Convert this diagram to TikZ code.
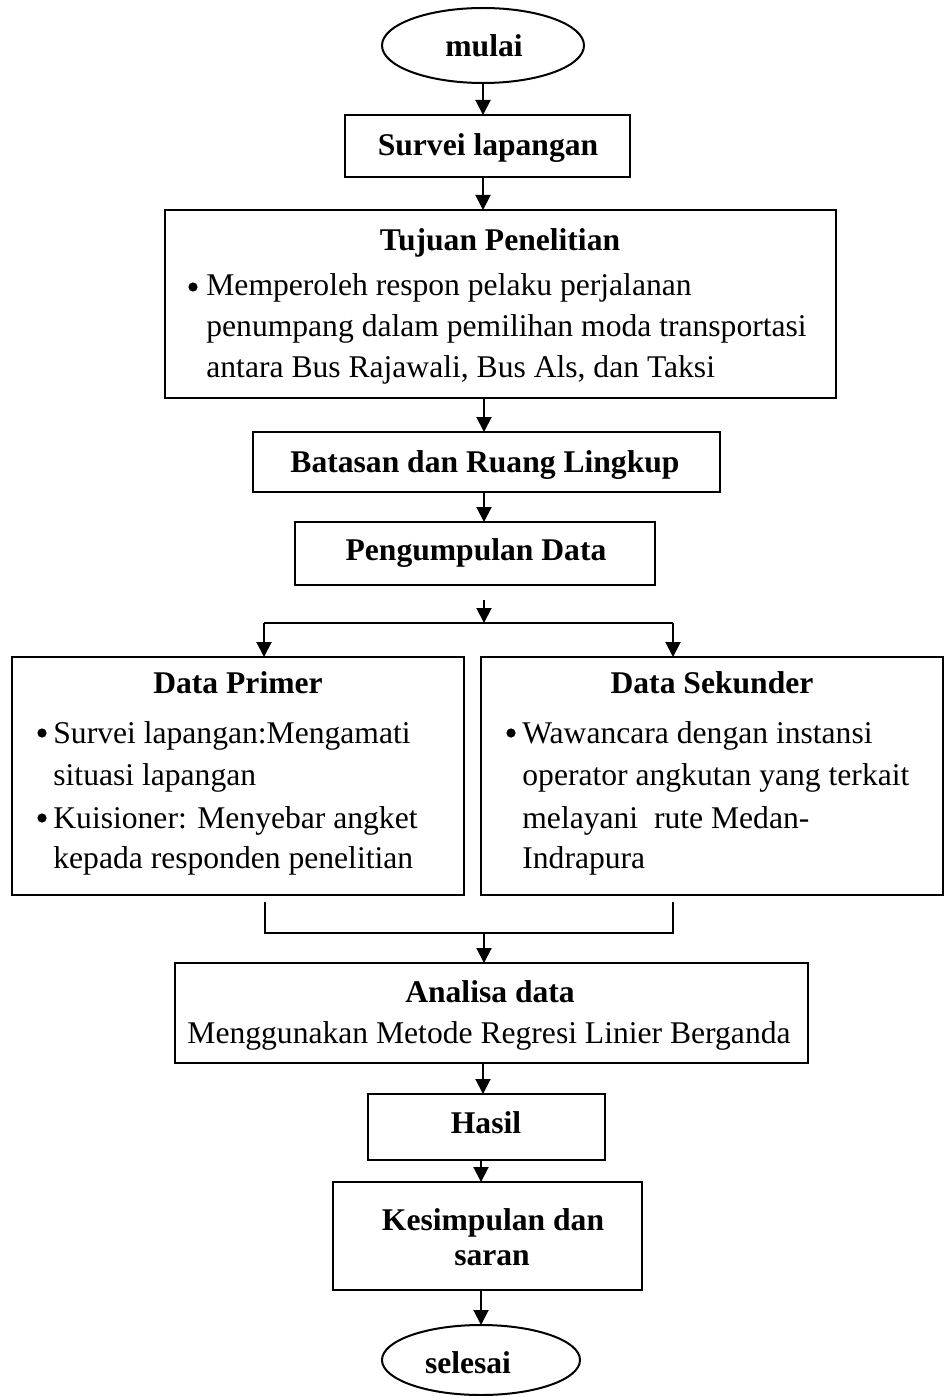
\documentclass[tikz,border=0pt]{standalone}
\usepackage{fontspec}
\setmainfont{Liberation Serif}
\usetikzlibrary{arrows.meta,shapes.geometric}

\begin{document}
\begin{tikzpicture}[x=0.5pt,y=-0.5pt,
  font=\fontsize{15.8pt}{19pt}\selectfont,
  box/.style={draw,line width=1pt,inner sep=0pt,outer sep=0pt},
  oval/.style={draw,ellipse,line width=1pt,inner sep=0pt,outer sep=0pt},
  txt/.style={anchor=base,inner sep=0pt},
  ltxt/.style={anchor=base west,inner sep=0pt},
  dot/.style={circle,fill,inner sep=0pt,minimum size=4.6pt},
  arr/.style={-{Triangle[width=7.5pt,length=7.5pt]},line width=1pt},
  lin/.style={line width=1pt}]
\useasboundingbox (0,0) rectangle (944,1396);

% start and end ovals
\node[oval,minimum width=101pt,minimum height=37.5pt] (mulai) at (483,45.5) {};
\node[txt] (tmulai) at (484,57) {\textbf{mulai}};
\node[oval,minimum width=99pt,minimum height=35pt] (selesai) at (481,1360) {};
\node[txt] (tselesai) at (468,1373) {\textbf{selesai}};

% process boxes
\node[box,minimum width=142.5pt,minimum height=31pt] (survei) at (487.5,146) {};
\node[txt] (tsurvei) at (488,156) {\textbf{Survei lapangan}};

\node[box,minimum width=335.5pt,minimum height=94pt] (tujuan) at (500.5,304) {};
\node[txt] (ttujuan) at (500,250) {\textbf{Tujuan Penelitian}};
\node[dot] (btujuan) at (193,287) {};
\node[ltxt] (tujuan1) at (206,295) {Memperoleh respon pelaku perjalanan};
\node[ltxt] (tujuan2) at (206,336) {penumpang dalam pemilihan moda transportasi};
\node[ltxt] (tujuan3) at (206,377) {antara Bus Rajawali, Bus Als, dan Taksi};

\node[box,minimum width=233.5pt,minimum height=30pt] (batasan) at (486.5,462) {};
\node[txt] (tbatasan) at (485,472) {\textbf{Batasan dan Ruang Lingkup}};

\node[box,minimum width=180pt,minimum height=31.5pt] (kumpul) at (475,553.5) {};
\node[txt] (tkumpul) at (476,560) {\textbf{Pengumpulan Data}};

\node[box,minimum width=226pt,minimum height=119pt] (primer) at (238,776) {};
\node[txt] (tprimer) at (238,693) {\textbf{Data Primer}};
\node[dot] (bprimer1) at (42,733) {};
\node[ltxt] (primer1) at (53,743) {Survei lapangan:Mengamati};
\node[ltxt] (primer2) at (53,785) {situasi lapangan};
\node[dot] (bprimer2) at (42,818) {};
\node[ltxt] (primer3) at (53,828) {Kuisioner: Menyebar angket};
\node[ltxt] (primer4) at (53,868) {kepada responden penelitian};

\node[box,minimum width=231pt,minimum height=119pt] (sekunder) at (712,776) {};
\node[txt] (tsekunder) at (712,693) {\textbf{Data Sekunder}};
\node[dot] (bsekunder) at (511,733) {};
\node[ltxt] (sekunder1) at (522,743) {Wawancara dengan instansi};
\node[ltxt] (sekunder2) at (522,785) {operator angkutan yang terkait};
\node[ltxt] (sekunder3) at (522,828) {melayani\ \ rute Medan-};
\node[ltxt] (sekunder4) at (522,868) {Indrapura};

\node[box,minimum width=316.5pt,minimum height=50pt] (analisa) at (491.5,1013) {};
\node[txt] (tanalisa) at (490,1002) {\textbf{Analisa data}};
\node[txt] (analisa1) at (489,1043) {Menggunakan Metode Regresi Linier Berganda};

\node[box,minimum width=118.5pt,minimum height=33pt] (hasil) at (486.5,1127) {};
\node[txt] (thasil) at (486,1133) {\textbf{Hasil}};

\node[box,minimum width=154.5pt,minimum height=54pt] (simpul) at (487.5,1236) {};
\node[txt] (tsimpul1) at (493,1230) {\textbf{Kesimpulan dan}};
\node[txt] (tsimpul2) at (492,1265) {\textbf{saran}};

% branch and merge points
\coordinate (kstart) at (484,600);
\coordinate (ksplit) at (484,623);
\coordinate (kleft) at (264,623);
\coordinate (kright) at (673,623);
\coordinate (mleft) at (265,902);
\coordinate (mleftlow) at (265,933);
\coordinate (mright) at (673,902);
\coordinate (mrightlow) at (673,933);
\coordinate (mmid) at (484,933);

% connectors
\draw[arr] (mulai.south) -- (survei.north -| mulai.south);
\draw[arr] (survei.south -| mulai.south) -- (tujuan.north -| mulai.south);
\draw[arr] (tujuan.south -| kstart) -- (batasan.north -| kstart);
\draw[arr] (batasan.south -| kstart) -- (kumpul.north -| kstart);
\draw[arr] (kstart) -- (ksplit);
\draw[lin] (kleft) -- (kright);
\draw[arr] (kleft) -- (primer.north -| kleft);
\draw[arr] (kright) -- (sekunder.north -| kright);
\draw[lin] (mleft) -- (mleftlow) -- (mrightlow) -- (mright);
\draw[arr] (mmid) -- (analisa.north -| mmid);
\draw[arr] (analisa.south -| mulai.south) -- (hasil.north -| mulai.south);
\draw[arr] (hasil.south -| selesai.north) -- (simpul.north -| selesai.north);
\draw[arr] (simpul.south -| selesai.north) -- (selesai.north);
\end{tikzpicture}
\end{document}
